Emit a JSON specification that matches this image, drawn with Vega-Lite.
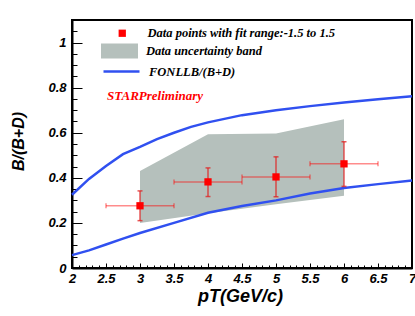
{
  "$schema": "https://vega.github.io/schema/vega-lite/v6.json",
  "autosize": {"type": "none"},
  "padding": {"left": 72, "top": 20, "right": 3, "bottom": 48},
  "width": 340,
  "height": 248,
  "background": "white",
  "config": {
    "view": {"stroke": "black", "strokeWidth": 2},
    "font": "Liberation Sans",
    "axis": {
      "domainColor": "black",
      "domainWidth": 2,
      "tickColor": "black",
      "tickWidth": 1,
      "grid": false,
      "labelFont": "Liberation Sans",
      "labelFontWeight": "bold",
      "labelFontStyle": "italic",
      "labelFontSize": 13,
      "labelColor": "black",
      "titleFont": "Liberation Sans",
      "titleFontWeight": "bold",
      "titleFontStyle": "italic",
      "titleFontSize": 16,
      "titleColor": "black"
    },
    "legend": {
      "orient": "none",
      "labelFont": "Liberation Serif",
      "labelFontWeight": "bold",
      "labelFontStyle": "italic",
      "labelFontSize": 12.5,
      "labelColor": "black",
      "labelLimit": 0,
      "padding": 0,
      "title": null
    }
  },
  "datasets": {
    "pts": [
      {"pt": 3, "r": 0.276, "xlo": 2.5, "xhi": 3.5, "ylo": 0.21, "yhi": 0.342},
      {"pt": 4, "r": 0.382, "xlo": 3.5, "xhi": 4.5, "ylo": 0.317, "yhi": 0.444},
      {"pt": 5, "r": 0.404, "xlo": 4.5, "xhi": 5.5, "ylo": 0.316, "yhi": 0.493},
      {"pt": 6, "r": 0.462, "xlo": 5.5, "xhi": 6.5, "ylo": 0.362, "yhi": 0.56}
    ],
    "band": [
      {"pt": 3, "lo": 0.2, "hi": 0.43},
      {"pt": 4, "lo": 0.243, "hi": 0.593},
      {"pt": 5, "lo": 0.283, "hi": 0.597},
      {"pt": 6, "lo": 0.32, "hi": 0.66}
    ],
    "fonll": [
      {"pt": 2, "r": 0.325, "curve": "upper"},
      {"pt": 2.25, "r": 0.395, "curve": "upper"},
      {"pt": 2.5, "r": 0.452, "curve": "upper"},
      {"pt": 2.75, "r": 0.505, "curve": "upper"},
      {"pt": 3, "r": 0.537, "curve": "upper"},
      {"pt": 3.25, "r": 0.572, "curve": "upper"},
      {"pt": 3.5, "r": 0.6, "curve": "upper"},
      {"pt": 3.75, "r": 0.626, "curve": "upper"},
      {"pt": 4, "r": 0.646, "curve": "upper"},
      {"pt": 4.5, "r": 0.678, "curve": "upper"},
      {"pt": 5, "r": 0.7, "curve": "upper"},
      {"pt": 5.5, "r": 0.718, "curve": "upper"},
      {"pt": 6, "r": 0.734, "curve": "upper"},
      {"pt": 6.5, "r": 0.749, "curve": "upper"},
      {"pt": 7, "r": 0.762, "curve": "upper"},
      {"pt": 2, "r": 0.057, "curve": "lower"},
      {"pt": 2.25, "r": 0.078, "curve": "lower"},
      {"pt": 2.5, "r": 0.104, "curve": "lower"},
      {"pt": 2.75, "r": 0.13, "curve": "lower"},
      {"pt": 3, "r": 0.155, "curve": "lower"},
      {"pt": 3.5, "r": 0.2, "curve": "lower"},
      {"pt": 4, "r": 0.245, "curve": "lower"},
      {"pt": 4.5, "r": 0.275, "curve": "lower"},
      {"pt": 5, "r": 0.3, "curve": "lower"},
      {"pt": 5.5, "r": 0.33, "curve": "lower"},
      {"pt": 6, "r": 0.355, "curve": "lower"},
      {"pt": 6.5, "r": 0.372, "curve": "lower"},
      {"pt": 7, "r": 0.388, "curve": "lower"}
    ]
  },
  "encoding": {
    "x": {
      "type": "quantitative",
      "scale": {"domain": [2, 7], "nice": false, "zero": false},
      "axis": {
        "title": "pT(GeV/c)",
        "titleX": 168, "titleY": 33, "titleAlign": "center", "titleBaseline": "alphabetic",
        "titleFontSize": 18,
        "values": [2,2.1,2.2,2.3,2.4,2.5,2.6,2.7,2.8,2.9,3,3.1,3.2,3.3,3.4,3.5,3.6,3.7,3.8,3.9,4,4.1,4.2,4.3,4.4,4.5,4.6,4.7,4.8,4.9,5,5.1,5.2,5.3,5.4,5.5,5.6,5.7,5.8,5.9,6,6.1,6.2,6.3,6.4,6.5,6.6,6.7,6.8,6.9,7],
        "format": "~g",
        "labelExpr": "abs(datum.value*2-round(datum.value*2))<1e-6 ? datum.label : ''",
        "tickSize": {"condition": {"test": "abs(datum.value*2-round(datum.value*2))<1e-6", "value": -5}, "value": -3},
        "labelPadding": 9,
        "labelOverlap": false,
        "labelFlush": false
      }
    },
    "y": {
      "type": "quantitative",
      "scale": {"domain": [0, 1.1], "nice": false},
      "axis": {
        "title": "B/(B+D)",
        "titleX": -54, "titleY": 121, "titleAngle": -90, "titleAlign": "center", "titleBaseline": "middle",
        "values": [0,0.05,0.1,0.15,0.2,0.25,0.3,0.35,0.4,0.45,0.5,0.55,0.6,0.65,0.7,0.75,0.8,0.85,0.9,0.95,1,1.05,1.1],
        "format": "~g",
        "labelExpr": "abs(datum.value*5-round(datum.value*5))<1e-6 ? datum.label : ''",
        "tickSize": {"condition": {"test": "abs(datum.value*5-round(datum.value*5))<1e-6", "value": -10}, "value": -5},
        "labelPadding": 16,
        "labelOverlap": false,
        "labelFlush": false
      }
    }
  },
  "layer": [
    {
      "data": {"name": "band"},
      "mark": {"type": "area", "opacity": 1},
      "encoding": {
        "x": {"field": "pt"},
        "y": {"field": "hi"},
        "y2": {"field": "lo"},
        "fill": {
          "datum": "Data uncertainty band",
          "scale": {"range": ["#b5c0bc"]},
          "legend": {
            "legendX": 29, "legendY": 12.5,
            "symbolType": "M-1,-0.4H1V0.4H-1Z",
            "symbolSize": 1369,
            "symbolStrokeWidth": 0,
            "symbolOpacity": 1,
            "labelOffset": 8
          }
        }
      }
    },
    {
      "data": {"name": "fonll"},
      "mark": {"type": "line", "strokeWidth": 2.5},
      "encoding": {
        "x": {"field": "pt"},
        "y": {"field": "r"},
        "detail": {"field": "curve"},
        "stroke": {
          "datum": "FONLLB/(B+D)",
          "scale": {"range": ["#3050f0"]},
          "legend": {
            "legendX": 30, "legendY": 32,
            "symbolType": "stroke",
            "symbolSize": 1296,
            "symbolStrokeWidth": 2.5,
            "labelOffset": 8
          }
        }
      }
    },
    {
      "data": {"name": "pts"},
      "mark": {"type": "errorbar", "ticks": {"size": 5}, "color": "red", "opacity": 0.45, "thickness": 1.5},
      "encoding": {
        "x": {"field": "xlo"},
        "x2": {"field": "xhi"},
        "y": {"field": "r"}
      }
    },
    {
      "data": {"name": "pts"},
      "mark": {"type": "errorbar", "ticks": {"size": 5}, "color": "#e02020", "opacity": 0.75, "thickness": 1.5},
      "encoding": {
        "x": {"field": "pt"},
        "y": {"field": "ylo"},
        "y2": {"field": "yhi"}
      }
    },
    {
      "data": {"name": "pts"},
      "mark": {"type": "point", "shape": "square", "filled": true, "size": 53, "opacity": 1},
      "encoding": {
        "x": {"field": "pt"},
        "y": {"field": "r"},
        "color": {
          "datum": "Data points with fit range:-1.5 to 1.5",
          "scale": {"range": ["#ff0000"]},
          "legend": {
            "legendX": 44, "legendY": 7,
            "symbolType": "square",
            "symbolSize": 53,
            "symbolStrokeWidth": 0,
            "symbolOpacity": 1,
            "labelOffset": 19
          }
        }
      }
    },
    {
      "data": {"values": [{"label": "STARPreliminary"}]},
      "mark": {"type": "text", "align": "left", "baseline": "alphabetic", "font": "Liberation Serif", "fontWeight": "bold", "fontStyle": "italic", "fontSize": 13, "color": "#ff0000"},
      "encoding": {
        "x": {"datum": 2.515},
        "y": {"datum": 0.745},
        "text": {"field": "label"}
      }
    }
  ]
}
